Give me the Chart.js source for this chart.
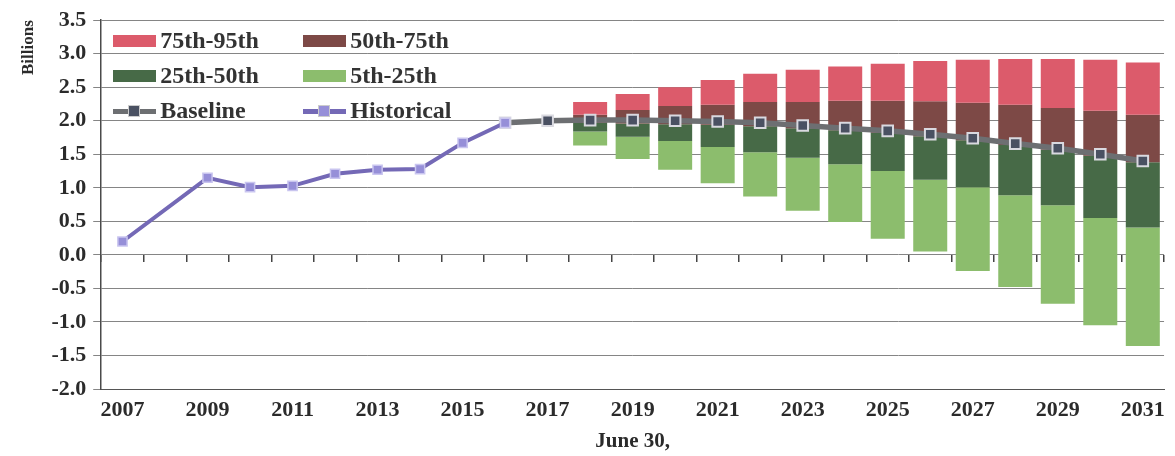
<!DOCTYPE html>
<html>
<head>
<meta charset="utf-8">
<script src="https://cdn.jsdelivr.net/npm/chart.js@4"></script>
<style>
  body { margin: 0; background: #fff; }
  #wrap { position: relative; width: 1175px; height: 456px; }
  #legend {
    position: absolute;
    display: grid;
    grid-template-columns: 190px 190px;
    row-gap: 10px;
    font: bold 24px "Liberation Serif", "Times New Roman", serif;
    color: #333;
  }
  .item { display: flex; align-items: center; height: 25px; }
  .swatch { position: relative; width: 43px; height: 12px; margin-right: 4px; }
  .dash { position: absolute; left: 0; right: 0; top: 4px; height: 5px; }
  .mark { position: absolute; left: 15px; top: 0; width: 10px; height: 10px; border: 1px solid #ccc; }
</style>
</head>
<body>
<div id="wrap">
  <canvas id="chart"></canvas>
  <div id="legend"></div>
</div>
<script>
// x categories (June 30 of each year)
const years = ['2007', '2008', '2009', '2010', '2011', '2012', '2013', '2014', '2015', '2016',
    '2017', '2018', '2019', '2020', '2021', '2022', '2023', '2024', '2025', '2026',
    '2027', '2028', '2029', '2030', '2031'];

// historical, 2007 - 2016 (no point for 2008)
const historical = [0.20, null, 1.15, 1.01, 1.03, 1.21, 1.27, 1.28, 1.67, 1.97];

// baseline projection, 2016 - 2031
const baselineYears = ['2016', '2017', '2018', '2019', '2020', '2021', '2022', '2023',
    '2024', '2025', '2026', '2027', '2028', '2029', '2030', '2031'];
const baseline = [1.97, 2.00, 2.01, 2.01, 2.00, 1.99, 1.97, 1.93, 1.89, 1.85, 1.80, 1.74, 1.66, 1.59, 1.50, 1.40];

// percentiles of the projection, 2018 - 2031
const projYears = ['2018', '2019', '2020', '2021', '2022', '2023', '2024',
    '2025', '2026', '2027', '2028', '2029', '2030', '2031'];
const p5  = [1.63, 1.43, 1.27, 1.07, 0.87, 0.66, 0.49, 0.24, 0.05, -0.24, -0.48, -0.73, -1.05, -1.36];
const p25 = [1.84, 1.76, 1.70, 1.61, 1.53, 1.45, 1.35, 1.25, 1.12, 1.01, 0.89, 0.74, 0.55, 0.41];
const p50 = [1.97, 1.96, 1.95, 1.94, 1.92, 1.89, 1.86, 1.82, 1.77, 1.71, 1.64, 1.57, 1.48, 1.38];
const p75 = [2.09, 2.16, 2.22, 2.24, 2.28, 2.28, 2.30, 2.30, 2.29, 2.27, 2.24, 2.19, 2.15, 2.09];
const p95 = [2.28, 2.40, 2.50, 2.61, 2.70, 2.76, 2.81, 2.85, 2.89, 2.91, 2.92, 2.92, 2.91, 2.87];

const serif = '"Liberation Serif", "Times New Roman", serif';
const textColor = '#2b2b2b';
const gridColor = '#858585';

// spread a short series over the full year axis
var alignTo = (keys, values) => years.map(y => {
    const i = keys.indexOf(y);
    return i < 0 ? null : values[i];
});
var band = (lo, hi) => alignTo(projYears, lo.map((v, i) => [v, hi[i]]));

const bandStyle = { type: 'bar', grouped: false, order: 2, borderWidth: 0,
    barPercentage: 0.8, categoryPercentage: 1 };

const datasets = [
    {
        type: 'line', label: 'Historical', order: 0,
        data: alignTo(years.slice(0, 10), historical),
        spanGaps: true,
        borderColor: '#7469b6', borderWidth: 4,
        pointStyle: 'rect', pointRadius: 6.5,
        pointBackgroundColor: '#968fd8', pointBorderColor: '#c9c5ef', pointBorderWidth: 1.5
    },
    {
        type: 'line', label: 'Baseline', order: 1,
        data: alignTo(baselineYears, baseline),
        borderColor: '#6d6f72', borderWidth: 5.5,
        pointStyle: 'rect', pointRadius: 7.5,
        pointBackgroundColor: '#4a5162', pointBorderColor: '#d9d9e0', pointBorderWidth: 2
    },
    { ...bandStyle, label: '75th-95th', data: band(p75, p95), backgroundColor: '#dc5b6b' },
    { ...bandStyle, label: '50th-75th', data: band(p50, p75), backgroundColor: '#7d4946' },
    { ...bandStyle, label: '25th-50th', data: band(p25, p50), backgroundColor: '#476a47' },
    { ...bandStyle, label: '5th-25th', data: band(p5, p25), backgroundColor: '#8cbd6d' }
];

const chart = new Chart(document.getElementById('chart'), {
    data: { labels: years, datasets: datasets },
    options: {
        responsive: true,
        maintainAspectRatio: false,
        animation: false,
        layout: { padding: { top: 6, right: 10, bottom: 4, left: 14 } },
        plugins: {
            legend: { display: false },
            tooltip: { enabled: false }
        },
        scales: {
            x: {
                offset: true,
                grid: { display: false, drawTicks: false },
                border: { display: true, color: '#555', width: 1 },
                ticks: {
                    autoSkip: false, maxRotation: 0, padding: 10,
                    color: textColor,
                    font: { family: serif, size: 22, weight: 'bold', lineHeight: 1 },
                    callback: (v, i) => i % 2 === 0 ? years[i] : ''
                },
                title: {
                    display: true, text: 'June 30,', color: textColor,
                    font: { family: serif, size: 21, weight: 'bold', lineHeight: 1 },
                    padding: { top: 0, bottom: 0 }
                }
            },
            // tick marks sitting on the zero line
            xZero: {
                type: 'category', axis: 'x', position: { y: 0 },
                offset: true,
                grid: { offset: true, drawOnChartArea: false, drawTicks: true, tickLength: 7, color: '#444', lineWidth: 1.5 },
                border: { display: false },
                ticks: { display: false }
            },
            y: {
                min: -2, max: 3.5,
                grid: { color: gridColor, lineWidth: 1, tickLength: 8 },
                border: { color: '#4a4a4a', width: 1.5 },
                ticks: {
                    stepSize: 0.5, padding: 7,
                    color: textColor,
                    font: { family: serif, size: 22, weight: 'bold' },
                    callback: v => v.toFixed(1)
                },
                title: {
                    display: true, text: 'Billions', align: 'end', color: textColor,
                    font: { family: serif, size: 17, weight: 'bold' },
                    padding: { bottom: 6 }
                }
            }
        }
    }
});

// legend in the upper left of the plot, two columns
const legendOrder = ['75th-95th', '50th-75th', '25th-50th', '5th-25th', 'Baseline', 'Historical'];
const legendEl = document.getElementById('legend');
legendOrder.forEach(name => {
    const ds = datasets.find(d => d.label === name);
    const item = document.createElement('div');
    item.className = 'item';
    const sw = document.createElement('span');
    sw.className = 'swatch';
    if (ds.type === 'bar') {
        sw.style.background = ds.backgroundColor;
    } else {
        sw.innerHTML = '<span class="dash"></span><span class="mark"></span>';
        sw.firstChild.style.background = ds.borderColor;
        sw.lastChild.style.background = ds.pointBackgroundColor;
    }
    item.appendChild(sw);
    item.appendChild(document.createTextNode(name));
    legendEl.appendChild(item);
});
legendEl.style.left = (chart.chartArea.left + 12) + 'px';
legendEl.style.top = (chart.chartArea.top + 8) + 'px';
</script>
</body>
</html>
